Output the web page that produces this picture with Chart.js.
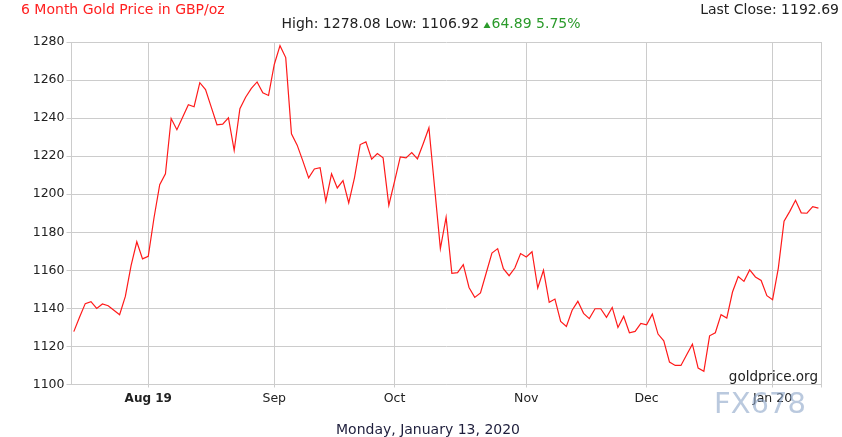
<!DOCTYPE html>
<html>
<head>
<meta charset="utf-8">
<script src="https://cdn.jsdelivr.net/npm/chart.js@4/dist/chart.umd.min.js"></script>
<style>
  html, body { margin: 0; padding: 0; background: #fff; }
  #wrap { width: 842px; height: 437px; position: relative; }
</style>
</head>
<body>
<div id="wrap"><canvas id="myChart" width="842" height="437"></canvas></div>
<script>
// daily closes, 15 Jul 2019 -> 13 Jan 2020 (trading days)
var prices = [
  1127.8, 1135.3, 1142.5, 1143.5, 1140.0, 1142.3, 1141.4, 1139.0, 1136.7, 1146.3,
  1162.5, 1175.0, 1166.0, 1167.4, 1187.5, 1205.0, 1210.7, 1239.8, 1233.9, 1240.4,
  1247.0, 1246.0, 1258.6, 1255.0, 1245.8, 1236.5, 1236.8, 1240.2, 1223.0, 1244.9,
  1251.0, 1255.6, 1259.0, 1253.3, 1251.9, 1268.2, 1278.08, 1271.8, 1231.8, 1225.8,
  1217.4, 1208.6, 1213.3, 1213.9, 1196.3, 1210.7, 1203.3, 1207.2, 1195.4, 1208.6,
  1226.1, 1227.5, 1218.4, 1221.4, 1219.1, 1194.2, 1206.8, 1219.6, 1219.1, 1221.9,
  1218.6, 1226.5, 1234.9, 1203.3, 1171.4, 1187.9, 1158.4, 1158.8, 1163.0, 1151.0,
  1145.8, 1148.1, 1158.6, 1169.1, 1171.4, 1160.9, 1157.2, 1161.2, 1168.8, 1167.0,
  1169.8, 1150.7, 1160.0, 1143.2, 1144.9, 1133.2, 1130.5, 1139.0, 1143.7, 1137.4,
  1134.6, 1139.8, 1139.8, 1135.3, 1140.5, 1130.0, 1135.8, 1127.2, 1127.9, 1132.1,
  1131.4, 1137.0, 1126.5, 1123.0, 1111.8, 1110.0, 1110.0, 1115.6, 1121.2, 1108.6,
  1106.92, 1125.6, 1127.2, 1136.7, 1134.9, 1148.6, 1156.7, 1154.2, 1160.2, 1156.5,
  1154.7, 1146.7, 1144.6, 1161.2, 1185.8, 1191.0, 1196.8, 1190.2, 1190.0, 1193.5,
  1192.69
];

var monthIdx = [13, 35, 56, 79, 100, 122];
var monthLabels = ['Aug 19', 'Sep', 'Oct', 'Nov', 'Dec', 'Jan 20'];
var yMin = 1100, yMax = 1280, yStep = 20;

var titleText = '6 Month Gold Price in GBP/oz';
var lastCloseText = 'Last Close: 1192.69';
var highLowText = 'High: 1278.08 Low: 1106.92 ';
var changeText = '64.89 5.75%';
var dateText = 'Monday, January 13, 2020';
var sourceText = 'goldprice.org';
var markText = 'FX678';

var xMin = -0.4, xMax = 130.45;
var gridCol = '#cccccc';

var points = prices.map(function (p, i) { return { x: i, y: p }; });

var textBits = {
  id: 'textBits',
  afterDraw: function (chart) {
    var ctx = chart.ctx;
    ctx.save();
    ctx.textBaseline = 'middle';

    // title
    ctx.font = '14px "DejaVu Sans"';
    ctx.fillStyle = '#ff2020';
    ctx.textAlign = 'left';
    ctx.fillText(titleText, 21, 10);

    // last close
    ctx.fillStyle = '#222222';
    ctx.textAlign = 'right';
    ctx.fillText(lastCloseText, 839, 10);

    // high / low / change
    ctx.textAlign = 'left';
    var w1 = ctx.measureText(highLowText).width;
    var w2 = ctx.measureText(changeText).width;
    var triW = 8;
    var x0 = 431 - (w1 + triW + w2) / 2;
    ctx.fillStyle = '#222222';
    ctx.fillText(highLowText, x0, 24);
    ctx.fillStyle = '#2a9a2a';
    ctx.beginPath();
    ctx.moveTo(x0 + w1, 28);
    ctx.lineTo(x0 + w1 + 7, 28);
    ctx.lineTo(x0 + w1 + 3.5, 22);
    ctx.closePath();
    ctx.fill();
    ctx.fillText(changeText, x0 + w1 + triW, 24);

    // date footer
    ctx.fillStyle = '#1e1e3c';
    ctx.textAlign = 'center';
    ctx.fillText(dateText, 428, 430);

    // source
    ctx.font = '13.5px "DejaVu Sans"';
    ctx.fillStyle = '#222222';
    ctx.textAlign = 'right';
    ctx.fillText(sourceText, 818, 377);

    // watermark
    ctx.font = '29px "DejaVu Sans"';
    ctx.textAlign = 'left';
    ctx.fillStyle = 'rgba(140,165,200,0.6)';
    ctx.fillText(markText, 714, 405);
    ctx.restore();
  }
};

var ctx = document.getElementById('myChart').getContext('2d');
var myChart = new Chart(ctx, {
  type: 'line',
  data: {
    datasets: [{
      data: points,
      borderColor: '#ff1a1a',
      borderWidth: 1.2,
      pointRadius: 0,
      tension: 0,
      fill: false
    }]
  },
  options: {
    responsive: false,
    animation: false,
    devicePixelRatio: 1,
    layout: { padding: { top: 42, right: 21, left: 0, bottom: 0 } },
    plugins: {
      legend: { display: false },
      tooltip: { enabled: false }
    },
    scales: {
      x: {
        type: 'linear',
        min: xMin,
        max: xMax,
        afterBuildTicks: function (scale) {
          scale.ticks = monthIdx.map(function (v) { return { value: v }; })
            .concat([{ value: xMax }]);
        },
        afterFit: function (scale) { scale.height = 52.5; },
        grid: { color: gridCol, lineWidth: 1, tickLength: 3 },
        border: { color: gridCol, width: 1 },
        ticks: {
          autoSkip: false,
          maxRotation: 0,
          padding: 4,
          color: '#222222',
          font: function (c) {
            if (c.index === 0) return { family: 'DejaVu Sans', size: 12, weight: 'bold' };
            return { family: 'DejaVu Sans', size: 12.5 };
          },
          callback: function (value, index) {
            return index < monthLabels.length ? monthLabels[index] : '';
          }
        }
      },
      y: {
        min: yMin,
        max: yMax,
        afterFit: function (scale) { scale.width = 71.5; },
        grid: { color: gridCol, lineWidth: 1, tickLength: 5 },
        border: { color: gridCol, width: 1 },
        ticks: {
          stepSize: yStep,
          padding: 2,
          color: '#222222',
          font: { family: 'DejaVu Sans', size: 12.5 },
          callback: function (value) { return String(value); }
        }
      }
    }
  },
  plugins: [textBits]
});
</script>
</body>
</html>
